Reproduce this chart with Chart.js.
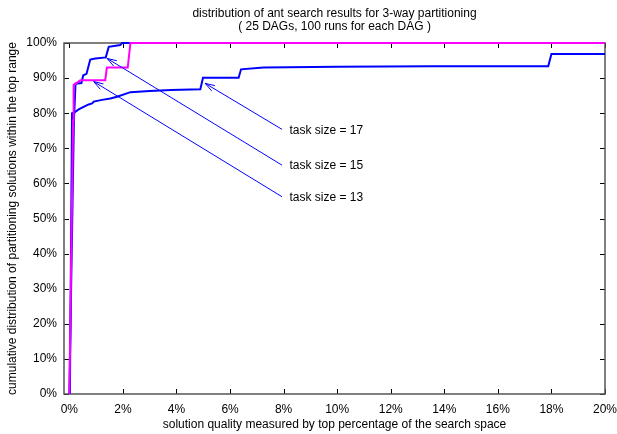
<!DOCTYPE html>
<html>
<head>
<meta charset="utf-8">
<script src="https://cdn.jsdelivr.net/npm/chart.js@4.4.0/dist/chart.umd.min.js"></script>
<style>
html,body{margin:0;padding:0;background:#fff;}
</style>
</head>
<body>
<canvas id="Plot" width="617" height="434"></canvas>
<script>
var titleLines = ["distribution of ant search results for 3-way partitioning", "( 25 DAGs, 100 runs for each DAG )"];
var xTitle = "solution quality measured by top percentage of the search space";
var yTitle = "cumulative distribution of partitioning solutions within the top range";

var xTicks = [0, 2, 4, 6, 8, 10, 12, 14, 16, 18, 20];
var yTicks = [0, 10, 20, 30, 40, 50, 60, 70, 80, 90, 100];

// task size = 13 (magenta)
var size13X = [0, 0.14, 0.16, 0.41, 1.34, 1.40, 2.18, 2.28, 20];
var size13Y = [0, 78, 88, 89.4, 89.4, 93, 93, 100, 100];

// task size = 15 (upper blue)
var size15X = [0, 0.17, 0.20, 0.23, 0.45, 0.52, 0.64, 0.78, 0.97, 1.36, 1.47, 1.90, 1.97, 20];
var size15Y = [0, 78, 83, 88.4, 88.6, 90.8, 91.2, 95.3, 95.6, 95.9, 98.9, 99.4, 100, 100];

// task size = 17 (lower blue)
var size17X = [0.02, 0.10, 0.22, 0.35, 0.53, 0.72, 0.85, 0.91, 1.22, 1.53, 1.78, 2.28, 3.0, 3.8, 4.89, 4.99, 6.32, 6.41, 7.25, 10, 13.5, 17.88, 18.0, 20];
var size17Y = [0, 80, 80.4, 81.1, 81.8, 82.5, 82.8, 83.3, 83.8, 84.2, 84.7, 86.0, 86.3, 86.6, 86.8, 90.1, 90.1, 92.5, 93.0, 93.2, 93.4, 93.4, 96.9, 96.9];

// arrows: label end -> point on curve
var arrowLabels = ["task size = 17", "task size = 15", "task size = 13"];
var arrowFromX = [7.94, 7.94, 7.94];
var arrowFromY = [75.4, 65.2, 56.2];
var arrowToX = [5.07, 1.41, 0.91];
var arrowToY = [88.5, 95.6, 89.0];

var FONT = '12px "Liberation Sans", Arial, sans-serif';

function pts(xs, ys) {
  var arr = [];
  for (var i = 0; i < xs.length; i++) {
    arr.push({x: xs[i], y: ys[i]});
  }
  return arr;
}

var framePlugin = {
  id: 'frame',
  beforeDatasetsDraw: function(chart) {
    var c = chart.ctx, a = chart.chartArea, sx = chart.scales.x, sy = chart.scales.y;
    c.save();
    c.strokeStyle = '#000';
    c.lineWidth = 1;
    c.beginPath();
    xTicks.forEach(function(v) {
      var p = Math.round(sx.getPixelForValue(v)) + 0.5;
      c.moveTo(p, a.bottom); c.lineTo(p, a.bottom - 5);
      c.moveTo(p, a.top); c.lineTo(p, a.top + 5);
    });
    yTicks.forEach(function(v) {
      var p = Math.round(sy.getPixelForValue(v)) + 0.5;
      c.moveTo(a.left, p); c.lineTo(a.left + 5, p);
      c.moveTo(a.right, p); c.lineTo(a.right - 5, p);
    });
    c.stroke();
    c.strokeStyle = '#555';
    c.lineWidth = 1.5;
    c.strokeRect(a.left, a.top, a.right - a.left, a.bottom - a.top);
    c.restore();
  },
  afterDatasetsDraw: function(chart) {
    var c = chart.ctx, sx = chart.scales.x, sy = chart.scales.y;
    c.save();
    c.strokeStyle = '#0000ff';
    c.lineWidth = 1;
    c.fillStyle = '#000';
    c.font = FONT;
    c.textAlign = 'left';
    c.textBaseline = 'middle';
    for (var i = 0; i < arrowLabels.length; i++) {
      var x0 = sx.getPixelForValue(arrowFromX[i]), y0 = sy.getPixelForValue(arrowFromY[i]);
      var x1 = sx.getPixelForValue(arrowToX[i]), y1 = sy.getPixelForValue(arrowToY[i]);
      var ang = Math.atan2(y0 - y1, x0 - x1);
      var h = 10, spread = 18 * Math.PI / 180;
      c.beginPath();
      c.moveTo(x0, y0); c.lineTo(x1, y1);
      c.moveTo(x1 + h * Math.cos(ang - spread), y1 + h * Math.sin(ang - spread));
      c.lineTo(x1, y1);
      c.lineTo(x1 + h * Math.cos(ang + spread), y1 + h * Math.sin(ang + spread));
      c.stroke();
      c.fillText(arrowLabels[i], x0 + 7.5, y0 + 1);
    }
    c.restore();
  },
  afterDraw: function(chart) {
    var c = chart.ctx, a = chart.chartArea;
    var cx = (a.left + a.right) / 2, cy = (a.top + a.bottom) / 2;
    c.save();
    c.fillStyle = '#000';
    c.font = FONT;
    c.textAlign = 'center';
    c.textBaseline = 'middle';
    c.fillText(titleLines[0], cx, 13.5);
    c.fillText(titleLines[1], cx, 27);
    c.fillText(xTitle, cx, 425);
    c.translate(13, cy);
    c.rotate(-Math.PI / 2);
    c.fillText(yTitle, 0, 0);
    c.restore();
  }
};

var ctx = document.getElementById("Plot").getContext('2d');
var myChart = new Chart(ctx, {
  type: 'line',
  data: {
    datasets: [{
      label: 'task size = 13',
      data: pts(size13X, size13Y),
      borderColor: '#ff00ff',
      borderWidth: 2,
      clip: 3
    }, {
      label: 'task size = 15',
      data: pts(size15X, size15Y),
      borderColor: '#0000ff',
      borderWidth: 2,
      clip: 3
    }, {
      label: 'task size = 17',
      data: pts(size17X, size17Y),
      borderColor: '#0000ff',
      borderWidth: 2,
      clip: 3
    }]
  },
  options: {
    responsive: false,
    animation: false,
    devicePixelRatio: 1,
    layout: {padding: {top: 43, right: 12, left: 0, bottom: 0}},
    elements: {
      point: {radius: 0},
      line: {tension: 0, fill: false}
    },
    plugins: {
      legend: {display: false},
      tooltip: {enabled: false},
      title: {display: false}
    },
    scales: {
      x: {
        type: 'linear',
        min: -0.2,
        max: 20,
        grid: {display: false, drawTicks: false},
        border: {display: false},
        afterBuildTicks: function(s) { s.ticks = xTicks.map(function(v) { return {value: v}; }); },
        afterFit: function(s) { s.height = 40; s.paddingLeft = 0; s.paddingRight = 0; },
        ticks: {
          padding: 8,
          color: '#000',
          font: {family: '"Liberation Sans", Arial, sans-serif', size: 12},
          maxRotation: 0,
          callback: function(v) { return v + '%'; }
        }
      },
      y: {
        type: 'linear',
        min: 0,
        max: 100,
        grid: {display: false, drawTicks: false},
        border: {display: false},
        afterBuildTicks: function(s) { s.ticks = yTicks.map(function(v) { return {value: v}; }); },
        afterFit: function(s) { s.width = 64; s.paddingTop = 0; s.paddingBottom = 0; },
        ticks: {
          padding: 7,
          color: '#000',
          font: {family: '"Liberation Sans", Arial, sans-serif', size: 12},
          callback: function(v) { return v + '%'; }
        }
      }
    }
  },
  plugins: [framePlugin]
});
</script>
</body>
</html>
